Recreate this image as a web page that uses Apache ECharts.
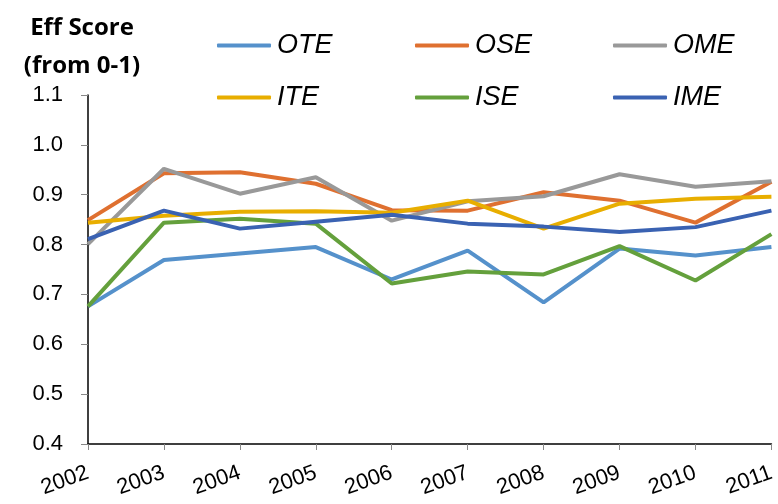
<!DOCTYPE html>
<html>
<head>
<meta charset="utf-8">
<script src="https://cdn.jsdelivr.net/npm/echarts@6/dist/echarts.min.js"></script>
<style>
	html, body { margin: 0; padding: 0; background: #fff; }
	#chart { width: 778px; height: 504px; }
</style>
</head>
<body>
<div id="chart"></div>
<script>
// 数据
var years = ['2002', '2003', '2004', '2005', '2006', '2007', '2008', '2009', '2010', '2011'];
var yTicks = [0.4, 0.5, 0.6, 0.7, 0.8, 0.9, 1.0, 1.1];
var seriesNames = ['OTE', 'OSE', 'OME', 'ITE', 'ISE', 'IME'];
var OTE = [0.676, 0.769, 0.782, 0.795, 0.730, 0.788, 0.684, 0.792, 0.778, 0.795];
var OSE = [0.849, 0.943, 0.945, 0.922, 0.869, 0.868, 0.905, 0.888, 0.844, 0.926];
var OME = [0.801, 0.952, 0.902, 0.935, 0.848, 0.887, 0.897, 0.941, 0.916, 0.927];
var ITE = [0.844, 0.858, 0.866, 0.867, 0.864, 0.888, 0.832, 0.882, 0.892, 0.896];
var ISE = [0.676, 0.844, 0.852, 0.842, 0.722, 0.746, 0.740, 0.797, 0.728, 0.821];
var IME = [0.811, 0.868, 0.832, 0.846, 0.860, 0.842, 0.836, 0.825, 0.835, 0.868];

var font = "'Liberation Sans', Arial, sans-serif";
var colors = ['#5591CB', '#DF7030', '#999999', '#E8AE00', '#64A03C', '#3A62B2'];

function line(name, data, color) {
	return {
		name: name,
		type: 'line',
		data: data,
		symbol: 'none',
		smooth: false,
		lineStyle: { width: 4, color: color },
		itemStyle: { color: color }
	};
}

// 图例：两行三列，每项单独定位
var legendLeft = [212, 410, 608];
var legendTop = [27, 79];
var legends = seriesNames.map(function(name, i) {
	return {
		left: legendLeft[i % 3],
		top: legendTop[Math.floor(i / 3)],
		data: [name],
		icon: 'roundRect',
		itemWidth: 54,
		itemHeight: 4,
		textStyle: {
			fontFamily: font,
			fontStyle: 'italic',
			fontSize: 27,
			color: '#000',
			padding: [0, 0, 0, 1]
		}
	};
});

var myChart = echarts.init(document.getElementById('chart'));

var option = {
	animation: false,
	title: {
		text: 'Eff Score\n(from 0-1)',
		left: 77,
		top: 4,
		textAlign: 'center',
		textStyle: {
			fontFamily: "'Open Sans', 'Liberation Sans', sans-serif",
			fontWeight: 'bold',
			fontSize: 24,
			lineHeight: 38,
			color: '#000'
		}
	},
	legend: legends,
	grid: {
		left: 88,
		right: 1,
		top: 95,
		bottom: 60,
		containLabel: false
	},
	xAxis: {
		type: 'category',
		data: years,
		boundaryGap: false,
		axisLine: { lineStyle: { color: '#000', width: 1.5 } },
		axisTick: { show: true, length: 6, lineStyle: { color: '#888' } },
		axisLabel: {
			rotate: 20,
			margin: 28,
			fontFamily: font,
			fontSize: 22,
			color: '#000'
		},
		splitLine: { show: false }
	},
	yAxis: {
		type: 'value',
		min: yTicks[0],
		max: yTicks[yTicks.length - 1],
		interval: 0.1,
		axisLine: { show: true, lineStyle: { color: '#000', width: 1.5 } },
		axisTick: { show: true, length: 7, lineStyle: { color: '#888' } },
		axisLabel: {
			margin: 25,
			fontFamily: font,
			fontSize: 22,
			color: '#000',
			formatter: function(v) { return v.toFixed(1); }
		},
		splitLine: { show: false }
	},
	series: [
		line('OTE', OTE, colors[0]),
		line('OSE', OSE, colors[1]),
		line('OME', OME, colors[2]),
		line('ITE', ITE, colors[3]),
		line('ISE', ISE, colors[4]),
		line('IME', IME, colors[5])
	]
};

myChart.setOption(option);
</script>
</body>
</html>
